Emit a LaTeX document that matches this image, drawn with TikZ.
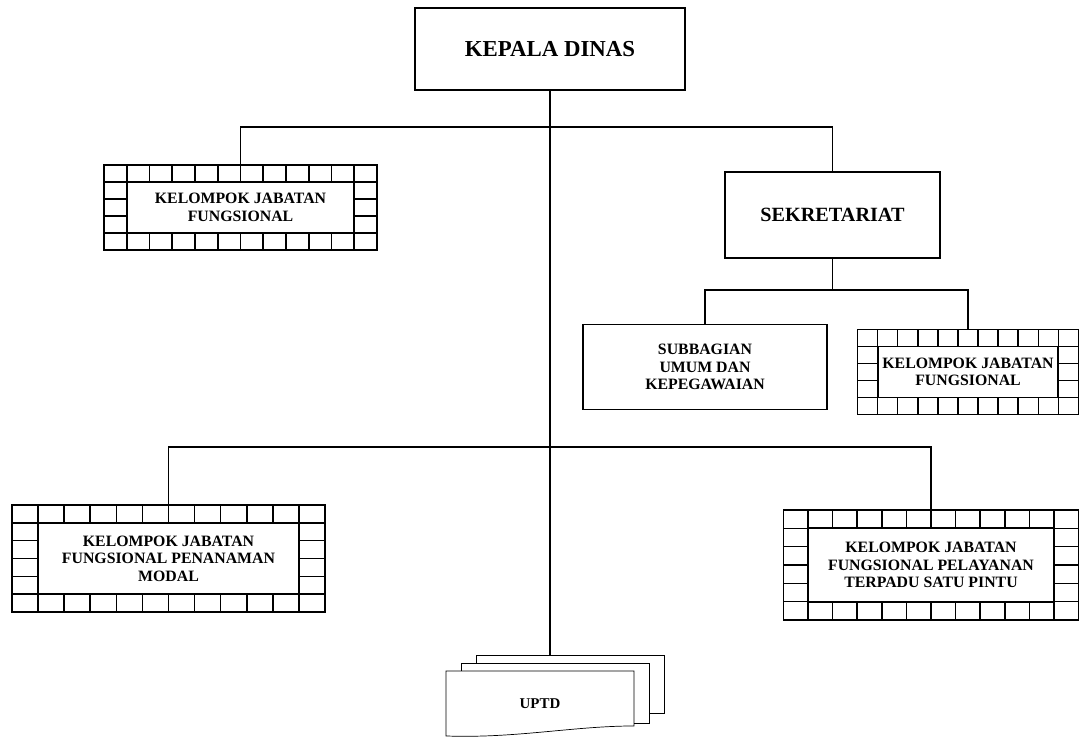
\documentclass[tikz,border=0pt]{standalone}
\usepackage{fontspec}
\setmainfont{Liberation Serif}
\usetikzlibrary{calc,backgrounds}

\begin{document}
\begin{tikzpicture}[line width=1.1pt,
	box/.style = {draw, align=center, inner sep=2pt},
	head/.style = {font=\bfseries\fontsize{13}{15}\selectfont},
	mid/.style = {font=\bfseries\fontsize{11.5}{14}\selectfont},
	small/.style = {font=\bfseries\fontsize{9}{10}\selectfont},
	gridbox/.style 2 args = {box, small, path picture={
		\coordinate (gsw) at (path picture bounding box.south west);
		\coordinate (gne) at (path picture bounding box.north east);
		\foreach \i in {1,...,#1}
			\draw[line width=0.9pt] ($(gsw)!\i/#1!(gsw -| gne)$) -- ($(gsw |- gne)!\i/#1!(gne)$);
		\foreach \j in {1,...,#2}
			\draw[line width=0.9pt] ($(gsw)!\j/#2!(gsw |- gne)$) -- ($(gsw -| gne)!\j/#2!(gne)$);
		\path ($(gsw)!1/#1!(gsw -| gne)$) coordinate (gx) ($(gsw)!1/#2!(gsw |- gne)$) coordinate (gy);
		\draw[fill=white] (gx |- gy) rectangle ($(gne)-(gx)-(gy)+(gsw)+(gsw)$);
	}}]
	\useasboundingbox (0,0) rectangle (21.6,14.8);

	\node[box, head, minimum width=5.4cm, minimum height=1.64cm] (kepala) at (11,13.82) {KEPALA DINAS};
	\node[box, mid, minimum width=4.3cm, minimum height=1.72cm] (sekretariat) at (16.65,10.5) {SEKRETARIAT};
	\node[box, small, minimum width=4.88cm, minimum height=1.7cm] (subbagian) at (14.1,7.46) {SUBBAGIAN\\UMUM DAN\\KEPEGAWAIAN};

	\node[gridbox={12}{5}, minimum width=5.46cm, minimum height=1.7cm] (kjf) at (4.81,10.65) {KELOMPOK JABATAN\\FUNGSIONAL};
	\node[gridbox={11}{5}, minimum width=4.42cm, minimum height=1.7cm] (kjfsek) at (19.36,7.36) {KELOMPOK JABATAN\\FUNGSIONAL};
	\node[gridbox={12}{6}, minimum width=6.26cm, minimum height=2.14cm] (kjfpm) at (3.37,3.63) {KELOMPOK JABATAN\\FUNGSIONAL PENANAMAN\\MODAL};
	\node[gridbox={12}{6}, minimum width=5.9cm, minimum height=2.2cm] (kjfptsp) at (18.62,3.5) {KELOMPOK JABATAN\\FUNGSIONAL PELAYANAN\\TERPADU SATU PINTU};

	\node[small, font=\bfseries\fontsize{8.5}{10}\selectfont, minimum width=3.72cm, minimum height=1.26cm] (uptd) at (10.8,0.73) {UPTD};

	\coordinate (topbar) at (11,12.26);
	\coordinate (sekbar) at (16.65,9.0);
	\coordinate (lowbar) at (11,5.86);
	\coordinate (uptdtop) at ($(uptd.north)+(0,0.32)$);

	\draw (kepala.south) -- (kepala.south |- uptdtop);
	\draw (kjf.north) |- (topbar) -| (sekretariat.north);
	\draw (sekretariat.south) -- (sekbar);
	\draw (subbagian.north) |- (sekbar) -| (kjfsek.north);
	\draw (kjfpm.north) |- (lowbar) -| (kjfptsp.north);

	% stacked pages behind UPTD
	\begin{scope}[on background layer]
		\foreach \k in {2,1}
			\draw[fill=white] ($(uptd.south west)+(0.3*\k,0.2*\k+0.06)$) rectangle ($(uptd.north east)+(0.3*\k,0.16*\k)$);
		\draw[fill=white] (uptd.north west) -- (uptd.north east) -- ($(uptd.south east)+(0,0.2)$) .. controls ($(uptd.south east)+(-1.2,0.2)$) and ($(uptd.south west)+(1.4,-0.05)$) .. (uptd.south west) -- cycle;
	\end{scope}
\end{tikzpicture}
\end{document}
